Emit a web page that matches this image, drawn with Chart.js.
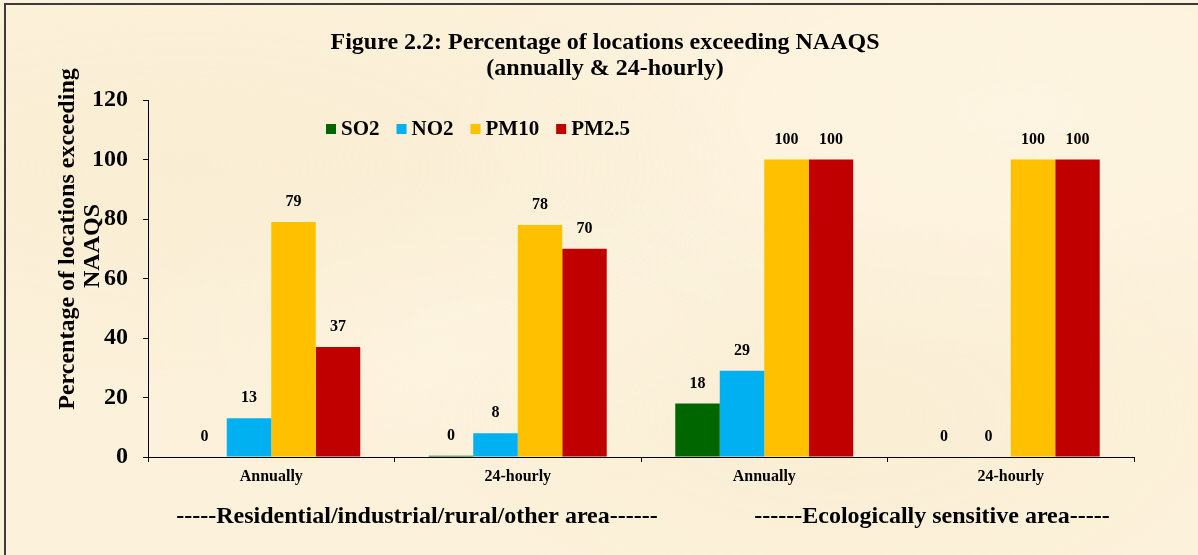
<!DOCTYPE html>
<html>
<head>
<meta charset="utf-8">
<script src="https://cdn.jsdelivr.net/npm/chart.js@4.4.1/dist/chart.umd.min.js"></script>
<style>
  html, body { margin: 0; padding: 0; }
  body {
    width: 1198px; height: 555px; overflow: hidden;
    background: #fcf1da;
    background-image:
      radial-gradient(ellipse at 15% 30%, rgba(242,228,195,0.3), transparent 40%),
      radial-gradient(ellipse at 70% 75%, rgba(242,228,195,0.25), transparent 35%),
      radial-gradient(ellipse at 85% 20%, rgba(255,248,232,0.5), transparent 40%),
      radial-gradient(ellipse at 40% 60%, rgba(255,248,232,0.4), transparent 35%);
  }
  #frame {
    position: absolute; left: 4px; top: 3px; right: -10px; bottom: -10px;
    border-left: 2px solid #3c3c3c; border-top: 2px solid #3c3c3c;
  }
  #wrap { position: absolute; left: 0; top: 0; width: 1198px; height: 555px; }
</style>
</head>
<body>
<div id="frame"></div>
<div id="wrap"><canvas id="chart" width="1198" height="555"></canvas></div>
<script>
// --- data ---
const categories = ['Annually', '24-hourly', 'Annually', '24-hourly'];
const so2Values  = [0, 0.4, 18, 0];
const no2Values  = [13, 8, 29, 0];
const pm10Values = [79, 78, 100, 100];
const pm25Values = [37, 70, 100, 100];
const seriesNames = ['SO2', 'NO2', 'PM10', 'PM2.5'];
const seriesColors = ['#006600', '#00b0f0', '#ffc000', '#c00000'];
const yTicks = [0, 20, 40, 60, 80, 100, 120];

const titleLines = ['Figure 2.2: Percentage of locations exceeding NAAQS', '(annually & 24-hourly)'];
const yTitleLines = ['Percentage of locations exceeding', 'NAAQS'];
const groupLabels = ['-----Residential/industrial/rural/other area------', '------Ecologically sensitive area-----'];

const SERIF = "'Liberation Serif', 'Times New Roman', serif";

// titles, axis title, group labels, legend and value labels
const decorations = {
    id: 'decorations',
    afterDatasetsDraw(chart) {
        const ctx = chart.ctx;
        ctx.save();
        ctx.fillStyle = '#000';

        // value labels above each bar
        ctx.font = 'bold 16px ' + SERIF;
        ctx.textAlign = 'center';
        ctx.textBaseline = 'middle';
        chart.data.datasets.forEach((ds, i) => {
            chart.getDatasetMeta(i).data.forEach((bar, j) => {
                ctx.fillText(String(Math.round(ds.data[j])), bar.x, bar.y - 20);
            });
        });

        // chart title
        ctx.font = 'bold 24px ' + SERIF;
        ctx.fillText(titleLines[0], 605, 43);
        ctx.fillText(titleLines[1], 605, 69);

        // group labels under the axis
        ctx.fillText(groupLabels[0], 417, 517);
        ctx.fillText(groupLabels[1], 932, 517);

        // y axis title (two rotated lines)
        ctx.save();
        ctx.translate(68, 239);
        ctx.rotate(-Math.PI / 2);
        ctx.fillText(yTitleLines[0], 0, 0);
        ctx.restore();
        ctx.save();
        ctx.translate(93, 246);
        ctx.rotate(-Math.PI / 2);
        ctx.fillText(yTitleLines[1], 0, 0);
        ctx.restore();

        // legend inside the plot
        ctx.font = 'bold 21px ' + SERIF;
        ctx.textAlign = 'left';
        let x = 326;
        const y = 129;
        chart.data.datasets.forEach(ds => {
            ctx.fillStyle = ds.backgroundColor;
            ctx.fillRect(x, y - 5, 10, 10);
            ctx.fillStyle = '#000';
            ctx.fillText(ds.label, x + 15, y + 1);
            x += 15 + ctx.measureText(ds.label).width + 17;
        });
        ctx.restore();
    }
};

new Chart(document.getElementById('chart'), {
    type: 'bar',
    data: {
        labels: categories,
        datasets: [
            { label: seriesNames[0], data: so2Values,  backgroundColor: seriesColors[0] },
            { label: seriesNames[1], data: no2Values,  backgroundColor: seriesColors[1] },
            { label: seriesNames[2], data: pm10Values, backgroundColor: seriesColors[2] },
            { label: seriesNames[3], data: pm25Values, backgroundColor: seriesColors[3] }
        ]
    },
    options: {
        responsive: false,
        animation: false,
        categoryPercentage: 0.722,
        barPercentage: 1.0,
        layout: { padding: { left: 0, right: 64, top: 100, bottom: 0 } },
        plugins: { legend: { display: false }, title: { display: false }, tooltip: { enabled: false } },
        scales: {
            x: {
                grid: { offset: true, drawOnChartArea: false, drawTicks: true, tickLength: 5, color: '#000' },
                border: { display: true, color: '#000', width: 1 },
                ticks: { color: '#000', font: { family: SERIF, size: 16, weight: 'bold' }, padding: 5, maxRotation: 0 },
                afterFit(scale) { scale.height = 98; }
            },
            y: {
                min: 0, max: 120,
                afterBuildTicks(scale) { scale.ticks = yTicks.map(v => ({ value: v })); },
                grid: { drawOnChartArea: false, drawTicks: true, tickLength: 5, color: '#000' },
                border: { display: true, color: '#000', width: 1 },
                ticks: { color: '#000', font: { family: SERIF, size: 24, weight: 'bold' }, padding: 15 },
                afterFit(scale) { scale.width = 148; }
            }
        }
    },
    plugins: [decorations]
});
</script>
</body>
</html>
